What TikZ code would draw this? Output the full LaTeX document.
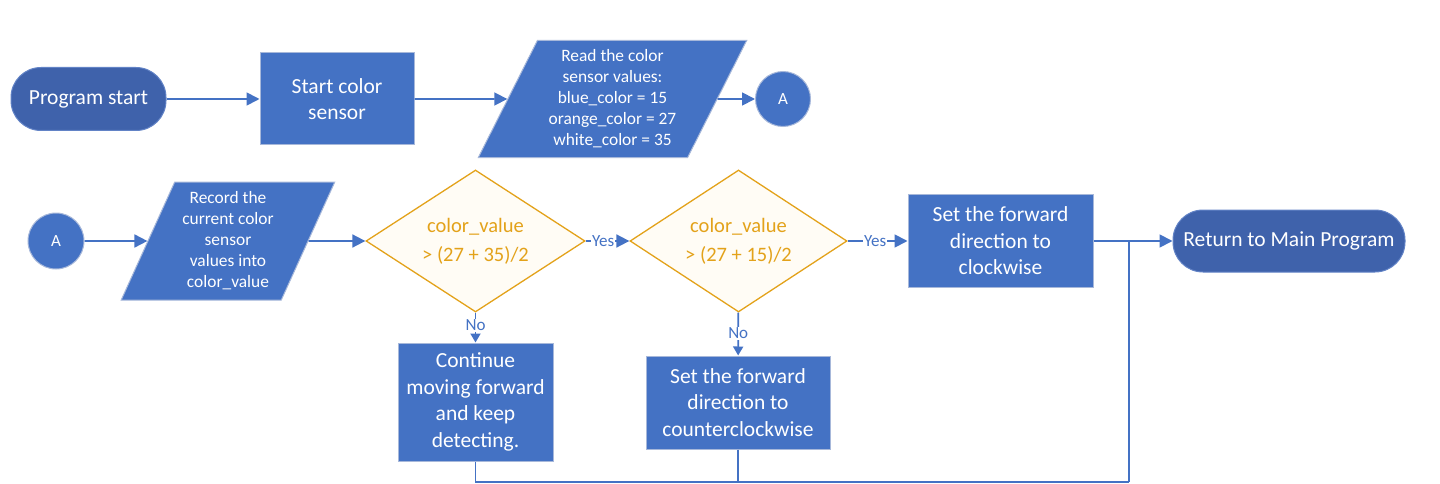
\documentclass[tikz,border=0pt]{standalone}
\usepackage{fontspec}
\setmainfont{Carlito}
\usetikzlibrary{shapes.geometric,arrows.meta}
\definecolor{boxblue}{HTML}{4472C4}
\definecolor{termblue}{HTML}{3F62AB}
\definecolor{termedge}{HTML}{6283C6}
\definecolor{boxedge}{HTML}{A7B8DA}
\definecolor{gold}{HTML}{E3A21A}
\definecolor{paleyellow}{HTML}{FFFCF5}
\tikzset{
    every node/.style={inner sep=0pt, align=center},
    terminal/.style={rectangle, rounded corners=30pt, fill=termblue, draw=termedge, line width=1pt,
        text=white, font=\fontsize{21.5}{26.5}\selectfont},
    process/.style={rectangle, fill=boxblue, draw=boxedge, line width=1pt,
        text=white, font=\fontsize{21.5}{26.5}\selectfont},
    io/.style={trapezium, trapezium stretches=true, fill=boxblue, draw=boxedge, line width=1pt,
        text=white, font=\fontsize{17.4}{21}\selectfont},
    connector/.style={circle, fill=boxblue, draw=boxedge, line width=1pt,
        text=white, font=\fontsize{17}{20}\selectfont},
    decision/.style={diamond, shape aspect=1.54, fill=paleyellow, draw=gold, line width=1.3pt,
        text=gold, minimum width=219pt, minimum height=142pt, font=\fontsize{20.5}{29}\selectfont},
    flow/.style={draw=boxblue, line width=1.8pt, -{Triangle[length=13pt, width=13pt]}},
    shortflow/.style={draw=boxblue, line width=1.8pt, -{Triangle[length=9pt, width=10pt]}},
    line/.style={draw=boxblue, line width=1.8pt},
    yesno/.style={fill=white, text=boxblue, inner sep=1pt, font=\fontsize{17}{18}\selectfont}
}

\begin{document}
\begin{tikzpicture}[x=1pt, y=-1pt]
  \useasboundingbox (0, 0) rectangle (1440, 484);

  % first row
  \node (start) [terminal, minimum width=155pt, minimum height=63pt] at (88.5, 99) {Program start};
  \node (sensor) [process, minimum width=154pt, minimum height=92pt] at (337, 99) {Start color\\sensor};
  \node (read) [io, trapezium left angle=63, trapezium right angle=117,
      minimum width=269pt, minimum height=117pt] at (612.5, 99)
      {Read the color\\sensor values:\\blue\_color = 15\\orange\_color = 27\\white\_color = 35};
  \node (a1) [connector, minimum size=55pt] at (783, 99) {A};

  % second row
  \node (a2) [connector, minimum size=56pt] at (56, 241) {A};
  \node (record) [io, trapezium left angle=65, trapezium right angle=115,
      minimum width=214pt, minimum height=118pt] at (228, 241)
      {Record the\\current color\\sensor\\values into\\color\_value};
  \node (dec1) [decision] at (475.5, 241) {color\_value\\> (27 + 35)/2};
  \node (dec2) [decision, minimum width=217pt] at (738.5, 241) {color\_value\\> (27 + 15)/2};
  \node (cw) [process, minimum width=185pt, minimum height=93pt] at (1000.5, 241)
      {Set the forward\\direction to\\clockwise};
  \node (ret) [terminal, minimum width=232pt, minimum height=62pt] at (1289, 241) {Return to Main Program};

  % third row
  \node (cont) [process, minimum width=155pt, minimum height=118pt] at (475.5, 402)
      {Continue\\moving forward\\and keep\\detecting.};
  \node (ccw) [process, minimum width=184pt, minimum height=93pt] at (738, 402.5)
      {Set the forward\\direction to\\counterclockwise};

  \coordinate (join) at (1129, 482);
  \coordinate (split) at (1129, 241);

  \draw (start) edge[flow] (sensor);
  \draw (sensor) edge[flow] (read);
  \draw (read) edge[flow] (a1);
  \draw (a2) edge[flow] (record);
  \draw (record) edge[flow] (dec1);
  \draw (dec1) edge[flow] node[yesno, pos=0.4] {Yes} (dec2);
  \draw (dec2) edge[flow] node[yesno, pos=0.46] {Yes} (cw);
  \draw (dec1) edge[shortflow] node[yesno, pos=0.42] {No} (cont);
  \draw (dec2) edge[shortflow] node[yesno, pos=0.48] {No} (ccw);
  \draw (cw) edge[flow] (ret);

  \draw[line] (cont) |- (join);
  \draw[line] (ccw) -- (ccw |- join);
  \draw[line] (join) -- (split);
\end{tikzpicture}
\end{document}
